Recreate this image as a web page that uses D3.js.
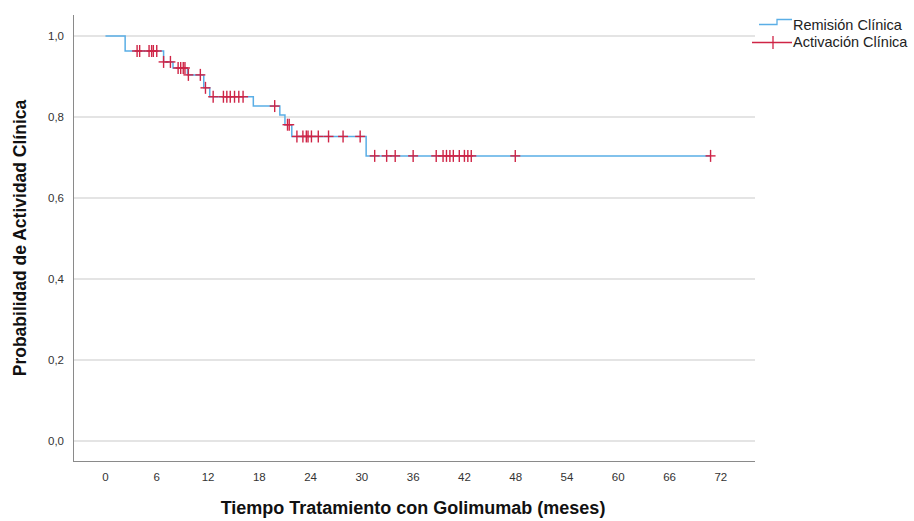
<!DOCTYPE html>
<html><head><meta charset="utf-8">
<script src="https://cdn.jsdelivr.net/npm/d3@7"></script>
<style>body{margin:0;background:#fff;} svg{display:block;font-family:"Liberation Sans",Arial,sans-serif;}</style>
</head><body>
<svg id="chart" width="914" height="521"></svg>
<script>
// Kaplan-Meier step curve: event times (months) and survival after each step
const stepTimes = [0, 2.3, 6.8, 7.9, 9.6, 11.5, 12.2, 17.3, 20.4, 21.0, 21.8, 30.5];
const stepSurv  = [1.0, 0.963, 0.936, 0.921, 0.904, 0.872, 0.850, 0.827, 0.805, 0.781, 0.752, 0.704];
const endTime = 70.8;
// Censored observations (months)
const censorTimes = [3.7, 4.0, 5.1, 5.4, 5.6, 6.0, 6.8,
  7.6, 8.5, 8.8, 9.1, 9.3, 9.7, 11.1, 11.7,
  12.6, 13.8, 14.2, 14.6, 15.1, 15.6, 16.1, 19.8, 21.3, 21.5,
  22.4, 23.1, 23.5, 23.7, 24.1, 24.9, 26.1, 27.8, 29.8,
  31.5, 32.9, 33.9, 36.0, 38.7, 39.5, 39.9, 40.3, 40.7, 41.4, 42.0, 42.4, 42.8, 47.95, 70.8];
const xTicks = [0, 6, 12, 18, 24, 30, 36, 42, 48, 54, 60, 66, 72];
const yTicks = [0, 0.2, 0.4, 0.6, 0.8, 1.0];
const seriesNames = ["Remisión Clínica", "Activación Clínica"];
const xTitle = "Tiempo Tratamiento con Golimumab (meses)";
const yTitle = "Probabilidad de Actividad Clínica";

const svg = d3.select("#chart");
const x = d3.scaleLinear().domain([-3.8, 76]).range([73, 755]);
const y = d3.scaleLinear().domain([0, 1]).range([441, 36]);

function survAt(t) {
  let s = stepSurv[0];
  for (let i = 0; i < stepTimes.length; i++) if (stepTimes[i] <= t) s = stepSurv[i];
  return s;
}

// gridlines
svg.append("g").selectAll("line").data(yTicks).join("line")
  .attr("x1", 73).attr("x2", 755)
  .attr("y1", d => y(d)).attr("y2", d => y(d))
  .attr("stroke", "#c9c9c9").attr("stroke-width", 1);

// axes lines
svg.append("line").attr("x1", 73.5).attr("x2", 73.5).attr("y1", 15).attr("y2", 462)
  .attr("stroke", "#8a8a8a").attr("stroke-width", 1);
svg.append("line").attr("x1", 73).attr("x2", 755).attr("y1", 461.5).attr("y2", 461.5)
  .attr("stroke", "#8a8a8a").attr("stroke-width", 1);

// y tick labels
const fmt = d => d3.format(".1f")(d).replace(".", ",");
svg.append("g").selectAll("text").data(yTicks).join("text")
  .attr("x", 64).attr("y", d => y(d)).attr("dy", "0.35em")
  .attr("text-anchor", "end").attr("font-size", 11.5).attr("fill", "#333")
  .text(fmt);
// x tick labels
svg.append("g").selectAll("text").data(xTicks).join("text")
  .attr("x", d => x(d)).attr("y", 477).attr("dy", "0.35em")
  .attr("text-anchor", "middle").attr("font-size", 11.5).attr("fill", "#333")
  .text(d => d);

// titles
svg.append("text").attr("x", 413).attr("y", 508).attr("dy", "0.35em")
  .attr("text-anchor", "middle").attr("font-size", 18).attr("font-weight", "bold").attr("fill", "#111")
  .text(xTitle);
svg.append("text").attr("transform", "translate(20,238) rotate(-90)").attr("dy", "0.35em")
  .attr("text-anchor", "middle").attr("font-size", 17.5).attr("font-weight", "bold").attr("fill", "#111")
  .text(yTitle);

// step curve
const pts = stepTimes.map((t, i) => [t, stepSurv[i]]);
pts.push([endTime, stepSurv[stepSurv.length - 1]]);
const line = d3.line().x(d => x(d[0])).y(d => y(d[1])).curve(d3.curveStepAfter);
svg.append("path").datum(pts).attr("d", line)
  .attr("fill", "none").attr("stroke", "#5aaee6").attr("stroke-width", 1.5);

// censor marks
const cg = svg.append("g").attr("stroke", "#cf2446").attr("stroke-width", 1.4);
censorTimes.forEach(t => {
  const cx = x(t), cy = y(survAt(t));
  cg.append("line").attr("x1", cx - 5).attr("x2", cx + 5).attr("y1", cy).attr("y2", cy);
  cg.append("line").attr("x1", cx).attr("x2", cx).attr("y1", cy - 6).attr("y2", cy + 6);
});

// legend
const lg = svg.append("g");
lg.append("path").attr("d", "M759,24.5 H777 V19.5 H792")
  .attr("fill", "none").attr("stroke", "#5aaee6").attr("stroke-width", 1.3);
lg.append("line").attr("x1", 752).attr("x2", 792).attr("y1", 42.5).attr("y2", 42.5)
  .attr("stroke", "#cf2446").attr("stroke-width", 1.3);
lg.append("line").attr("x1", 773).attr("x2", 773).attr("y1", 36).attr("y2", 49)
  .attr("stroke", "#cf2446").attr("stroke-width", 1.3);
lg.selectAll("text").data(seriesNames).join("text")
  .attr("x", 793).attr("y", (d, i) => 25 + i * 17).attr("dy", "0.35em")
  .attr("font-size", 14.5).attr("fill", "#222").text(d => d);
</script>
</body></html>
